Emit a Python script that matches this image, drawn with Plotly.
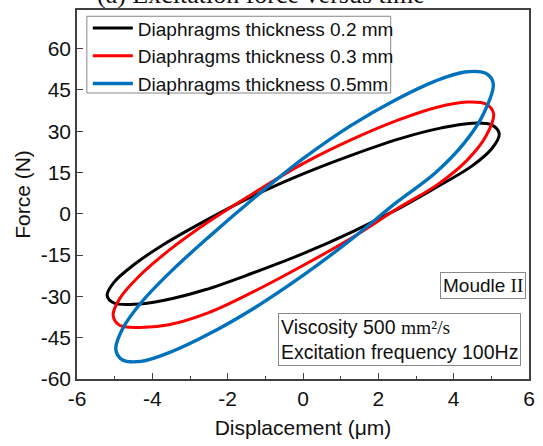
import plotly.graph_objects as go

# Diaphragms thickness 0.2 mm (black loop), going round the loop
x_02 = [0, -1.35, -2.60, -3.68, -4.50, -5.02, -5.20, -5.02, -4.50, -3.68, -2.60, -1.35, 0, 1.35, 2.60, 3.68, 4.50, 5.02, 5.21, 5.02, 4.50, 3.68, 2.60, 1.35, 0]
y_02 = [14.5, 6.3, -2.6, -11.0, -18.6, -24.9, -29.7, -32.4, -32.9, -31.4, -27.6, -21.6, -14.5, -6.3, 2.3, 10.7, 17.5, 23.8, 29.0, 32.2, 32.9, 31.2, 27.4, 21.6, 14.5]

# Diaphragms thickness 0.3 mm (red loop)
x_03 = [0, -1.30, -2.52, -3.56, -4.36, -4.87, -5.04, -4.87, -4.36, -3.56, -2.52, -1.30, 0, 1.30, 2.52, 3.56, 4.36, 4.87, 5.06, 4.87, 4.36, 3.56, 2.52, 1.30, 0]
y_03 = [18.2, 7.6, -3.0, -13.3, -22.8, -30.9, -36.9, -40.5, -41.3, -40.3, -36.0, -28.2, -18.8, -8.7, 2.0, 10.5, 19.5, 28.5, 36.3, 39.8, 40.6, 38.7, 34.0, 27.0, 18.2]

# Diaphragms thickness 0.5 mm (blue loop)
x_05 = [0, -1.29, -2.49, -3.51, -4.30, -4.80, -4.97, -4.80, -4.30, -3.51, -2.49, -1.29, 0, 1.29, 2.49, 3.51, 4.30, 4.80, 5.05, 4.85, 4.30, 3.51, 2.49, 1.29, 0]
y_05 = [20.0, 5.8, -8.3, -21.0, -32.3, -42.0, -49.3, -53.0, -53.6, -50.2, -43.6, -34.2, -22.4, -9.2, 4.2, 14.8, 26.0, 36.5, 47.3, 51.0, 51.5, 48.2, 41.6, 32.2, 20.0]

names = ["Diaphragms thickness 0.2 mm", "Diaphragms thickness 0.3 mm", "Diaphragms thickness 0.5mm"]
colors = ["#000000", "#ff0000", "#0072BD"]
widths = [3, 3, 3.4]

x_ticks = [-6, -4, -2, 0, 2, 4, 6]
x_tick_labels = ["-6", "-4", "-2", "0", "2", "4", "6"]
y_ticks = [-60, -45, -30, -15, 0, 15, 30, 45, 60]
y_tick_labels = ["-60", "-45", "-30", "-15", "0", "15", "30", "45", "60"]

SANS = "Liberation Sans, Arial, sans-serif"
SERIF = "Liberation Serif, Times New Roman, serif"
TXT = "#111111"
AX = "#404040"

fig = go.Figure()
for xs, ys, n, c, w in zip([x_02, x_03, x_05], [y_02, y_03, y_05], names, colors, widths):
    fig.add_trace(go.Scatter(x=xs, y=ys, mode="lines", name=n,
                             line=dict(color=c, width=w, shape="spline", smoothing=1.0)))

axis_common = dict(showline=True, linecolor=AX, linewidth=1.5, mirror=True,
                   ticks="inside", ticklen=6, tickwidth=1.2, tickcolor=AX,
                   showgrid=False, zeroline=False,
                   tickfont=dict(family=SANS, size=21, color=TXT))

fig.update_layout(
    width=543, height=446,
    margin=dict(l=77, r=8, t=9, b=67),
    paper_bgcolor="white", plot_bgcolor="white",
    showlegend=True,
    legend=dict(x=0.024, y=1.002, xanchor="left", yanchor="top",
                bgcolor="rgba(0,0,0,0)", borderwidth=0,
                font=dict(family=SANS, size=19, color=TXT),
                tracegroupgap=0, itemwidth=40),
    xaxis=dict(range=[-6, 6], tickvals=x_ticks, ticktext=x_tick_labels,
               minor=dict(ticks="inside", ticklen=3, dtick=1, tickcolor=AX, tickwidth=1.2),
               title=dict(text="Displacement (μm)", font=dict(family=SANS, size=21, color=TXT), standoff=11),
               **axis_common),
    yaxis=dict(range=[-60, 74], tickvals=y_ticks, ticktext=y_tick_labels,
               title=dict(text="Force (N)", font=dict(family=SANS, size=21, color=TXT), standoff=4),
               **axis_common),
)

# legend frame
fig.add_shape(type="rect", xref="paper", yref="paper", x0=0.0218, x1=0.694, y0=0.775, y1=0.983,
              line=dict(color="#888888", width=1), fillcolor="rgba(255,255,255,0)", layer="below")

fig.add_annotation(xref="paper", yref="paper", x=0.408, y=0.997, xanchor="center", yanchor="bottom",
                   text="(a) Excitation force versus time", showarrow=False,
                   font=dict(family=SERIF, size=26, color=TXT))

fig.add_annotation(xref="paper", yref="paper", x=0.9925, y=0.254, xanchor="right", yanchor="middle",
                   text="Moudle <span style='font-family:Liberation Serif'>II</span>", showarrow=False,
                   font=dict(family=SANS, size=19, color=TXT),
                   bordercolor="#888888", borderwidth=1, borderpad=2, bgcolor="white")

fig.add_annotation(xref="paper", yref="paper", x=0.4455, y=0.036, xanchor="left", yanchor="bottom",
                   text="Viscosity 500 <span style='font-family:Liberation Serif'>mm²/s</span><br>Excitation frequency 100Hz",
                   showarrow=False, align="left",
                   font=dict(family=SANS, size=19.5, color=TXT),
                   bordercolor="#888888", borderwidth=1, borderpad=2, bgcolor="white")

fig.write_html("out.html")
